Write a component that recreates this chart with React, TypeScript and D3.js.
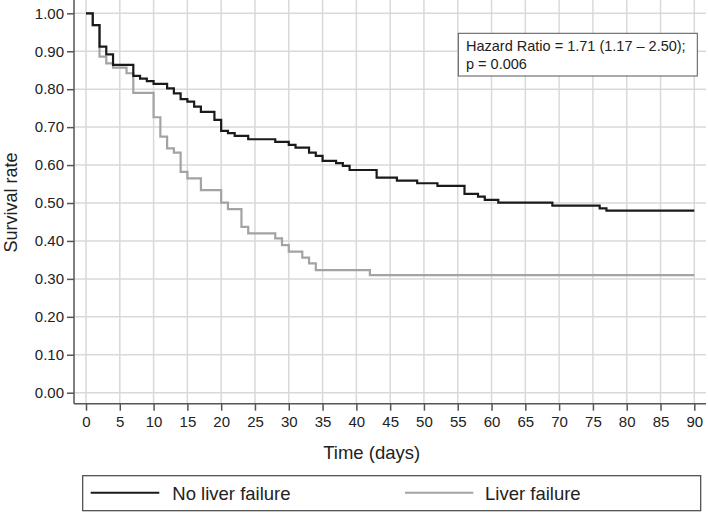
import { useEffect, useRef } from 'react'
import * as d3 from 'd3'

// Kaplan-Meier steps: [day, survival]
const noLiverFailure: [number, number][] = [
  [0, 1.0], [1, 0.969], [2, 0.912], [3, 0.892], [4, 0.864], [7, 0.835],
  [8, 0.828], [9, 0.821], [10, 0.814], [12, 0.802], [13, 0.789], [14, 0.774],
  [15, 0.767], [16, 0.754], [17, 0.740], [19, 0.719], [20, 0.690], [21, 0.684],
  [22, 0.677], [24, 0.668], [28, 0.661], [30, 0.653], [31, 0.646], [33, 0.633],
  [34, 0.624], [35, 0.611], [37, 0.605], [38, 0.598], [39, 0.587], [43, 0.567],
  [46, 0.559], [49, 0.552], [52, 0.545], [56, 0.524], [58, 0.517], [59, 0.508],
  [61, 0.501], [69, 0.493], [76, 0.486], [77, 0.480], [90, 0.480]
]

const liverFailure: [number, number][] = [
  [0, 1.0], [1, 0.969], [2, 0.886], [3, 0.868], [4, 0.857], [6, 0.842],
  [7, 0.790], [10, 0.726], [11, 0.675], [12, 0.644], [13, 0.633], [14, 0.582],
  [15, 0.565], [17, 0.534], [20, 0.501], [21, 0.484], [23, 0.437], [24, 0.420],
  [28, 0.407], [29, 0.389], [30, 0.372], [32, 0.356], [33, 0.341], [34, 0.323],
  [42, 0.310], [90, 0.310]
]

const xTicks = d3.range(0, 91, 5)
const yTicks = d3.range(0, 1.01, 0.1)
const hazardText = ['Hazard Ratio = 1.71 (1.17 \u2013 2.50);', 'p = 0.006']
const legendLabels = ['No liver failure', 'Liver failure']
const lineColors = ['#1a1a1a', '#a3a3a3']

export default function App() {
  const svgRef = useRef<SVGSVGElement>(null)

  useEffect(() => {
    if (!svgRef.current) return
    const svg = d3.select(svgRef.current)
    svg.selectAll('*').remove()

    const font = '"Liberation Sans", Arial, sans-serif'
    const axisLeftX = 74
    const axisBottomY = 403.7
    const rightEdge = 706

    const x = d3.scaleLinear().domain([0, 90]).range([86, 694.3])
    const y = d3.scaleLinear().domain([0, 1]).range([392.7, 13.3])

    // grid
    const grid = svg.append('g')
    grid.selectAll('.hgrid')
      .data(yTicks)
      .enter()
      .append('line')
      .attr('x1', axisLeftX)
      .attr('x2', rightEdge)
      .attr('y1', d => y(d))
      .attr('y2', d => y(d))
      .attr('stroke', '#d9d9d9')
      .attr('stroke-width', 1.5)
    grid.selectAll('.vgrid')
      .data(xTicks)
      .enter()
      .append('line')
      .attr('x1', d => x(d))
      .attr('x2', d => x(d))
      .attr('y1', 0)
      .attr('y2', axisBottomY)
      .attr('stroke', '#d9d9d9')
      .attr('stroke-width', 1.5)

    // axes
    const yAxis = svg.append('g')
      .attr('transform', `translate(${axisLeftX},0)`)
      .call(d3.axisLeft(y).tickValues(yTicks).tickFormat(d3.format('.2f')).tickSize(7).tickPadding(3).tickSizeOuter(0))
    yAxis.select('.domain').remove()
    yAxis.append('line')
      .attr('x1', 0).attr('x2', 0).attr('y1', 0).attr('y2', axisBottomY)
      .attr('stroke', '#555').attr('stroke-width', 1.5)

    const xAxis = svg.append('g')
      .attr('transform', `translate(0,${axisBottomY})`)
      .call(d3.axisBottom(x).tickValues(xTicks).tickSize(7).tickPadding(6).tickSizeOuter(0))
    xAxis.select('.domain').remove()
    xAxis.append('line')
      .attr('x1', axisLeftX).attr('x2', rightEdge).attr('y1', 0).attr('y2', 0)
      .attr('stroke', '#555').attr('stroke-width', 1.5)

    svg.selectAll('.tick line').attr('stroke', '#555').attr('stroke-width', 1.5)
    svg.selectAll('.tick text')
      .attr('font-family', font)
      .attr('font-size', 15)
      .attr('fill', '#222')

    // curves
    const line = d3.line<[number, number]>()
      .x(d => x(d[0]))
      .y(d => y(d[1]))
      .curve(d3.curveStepAfter)

    ;[liverFailure, noLiverFailure].forEach((series, i) => {
      svg.append('path')
        .datum(series)
        .attr('d', line)
        .attr('fill', 'none')
        .attr('stroke', i === 0 ? lineColors[1] : lineColors[0])
        .attr('stroke-width', 2.2)
    })

    // axis titles
    svg.append('text')
      .attr('x', 371.7)
      .attr('y', 459)
      .attr('text-anchor', 'middle')
      .attr('font-family', font)
      .attr('font-size', 18.5)
      .attr('fill', '#222')
      .text('Time (days)')

    svg.append('text')
      .attr('transform', 'translate(16.5,202.5) rotate(-90)')
      .attr('text-anchor', 'middle')
      .attr('font-family', font)
      .attr('font-size', 18)
      .attr('fill', '#222')
      .text('Survival rate')

    // hazard ratio box
    svg.append('rect')
      .attr('x', 458.3).attr('y', 33.3)
      .attr('width', 239).attr('height', 42.7)
      .attr('fill', '#fff')
      .attr('stroke', '#555')
      .attr('stroke-width', 1)
    svg.selectAll('.hr')
      .data(hazardText)
      .enter()
      .append('text')
      .attr('x', 466)
      .attr('y', (d, i) => 51 + i * 17.5)
      .attr('font-family', font)
      .attr('font-size', 14.5)
      .attr('fill', '#222')
      .text(d => d)

    // legend
    svg.append('rect')
      .attr('x', 82.7).attr('y', 475.7)
      .attr('width', 618).attr('height', 35)
      .attr('fill', '#fff')
      .attr('stroke', '#444')
      .attr('stroke-width', 1.2)
    const legendX = [[90.7, 159.3, 172.3], [405, 473.3, 485]]
    legendLabels.forEach((label, i) => {
      const [x1, x2, tx] = legendX[i]
      svg.append('line')
        .attr('x1', x1).attr('x2', x2)
        .attr('y1', 492.7).attr('y2', 492.7)
        .attr('stroke', lineColors[i])
        .attr('stroke-width', 2)
      svg.append('text')
        .attr('x', tx)
        .attr('y', 499.5)
        .attr('font-family', font)
        .attr('font-size', 18.5)
        .attr('fill', '#222')
        .text(label)
    })
  }, [])

  return (
    <svg
      ref={svgRef}
      width={708}
      height={513}
      style={{ position: 'absolute', left: 0, top: 0, background: '#fff' }}
    />
  )
}
